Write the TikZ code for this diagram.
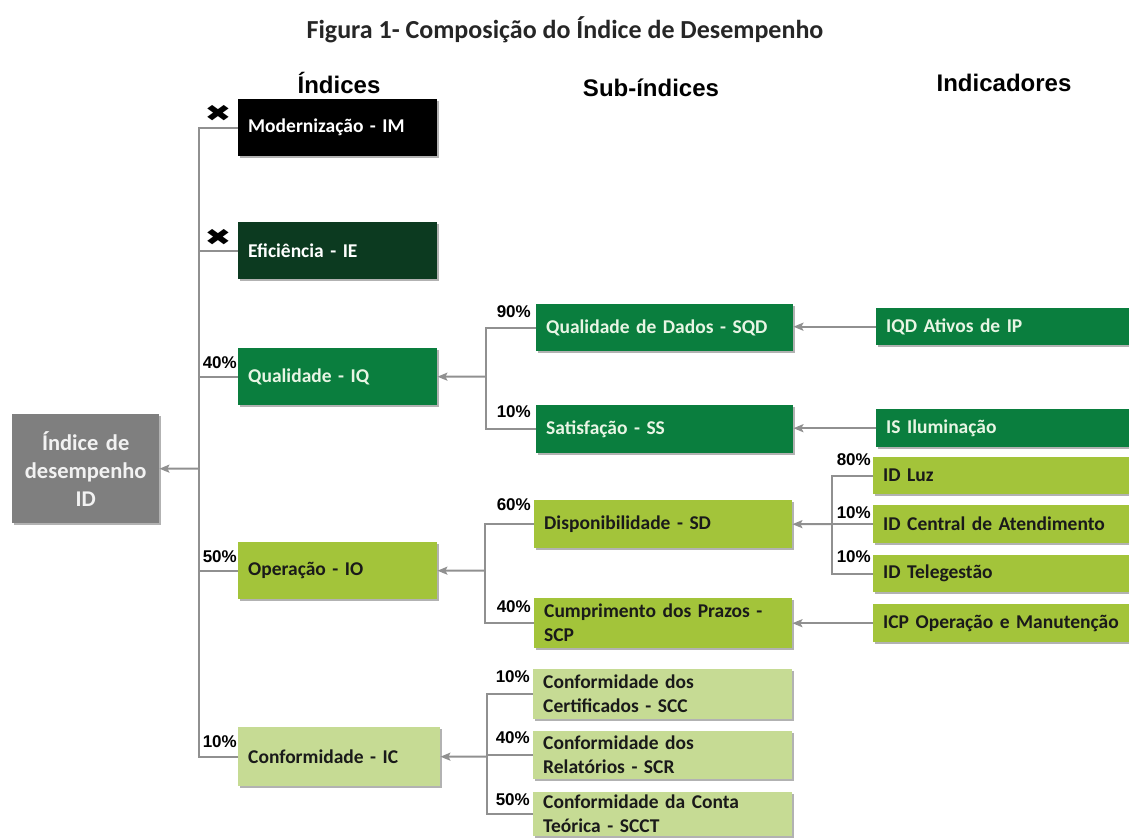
\documentclass[tikz,border=0pt]{standalone}
\usepackage{fontspec}
\setmainfont{Carlito}
\newfontfamily\arialf{Liberation Sans}
\newfontfamily\symf{DejaVu Sans}
\usetikzlibrary{arrows.meta,shadows,calc}
\definecolor{gDark}{RGB}{12,58,32}
\definecolor{gMid}{RGB}{10,126,62}
\definecolor{gLime}{RGB}{163,196,58}
\definecolor{gLight}{RGB}{198,219,148}
\definecolor{gGray}{RGB}{127,127,127}
\definecolor{lineC}{RGB}{144,144,144}
\definecolor{txtLight}{RGB}{232,245,228}
\definecolor{txtDark}{RGB}{26,26,26}
\definecolor{titleC}{RGB}{38,38,38}
\tikzset{
  bx/.code 2 args={\pgfmathsetmacro\tw{#1-20}\edef\next{\noexpand\tikzset{minimum width=#1pt,minimum height=#2pt,text width=\tw pt}}\next},
  box/.style={draw=none, anchor=north west, align=left, inner xsep=10pt, inner ysep=0pt,
    font=\fontsize{19.5}{24}\bfseries\selectfont,
    drop shadow={shadow xshift=1.5pt, shadow yshift=-2pt, opacity=0.3, fill=black}},
  bBlack/.style={box, fill=black, text=white},
  bDark/.style={box, fill=gDark, text=white},
  bMid/.style={box, fill=gMid, text=txtLight},
  bLime/.style={box, fill=gLime, text=txtDark},
  bLight/.style={box, fill=gLight, text=txtDark},
  pct/.style={font=\arialf\bfseries\fontsize{17}{17}\selectfont, anchor=east, inner sep=0pt},
  hdr/.style={font=\arialf\bfseries\fontsize{24}{24}\selectfont, inner sep=0pt},
  xm/.style={font=\symf\fontsize{32}{32}\selectfont, inner sep=0pt},
  conn/.style={draw=lineC, line width=2pt},
  arr/.style={conn, -{Stealth[length=10pt,width=8pt,inset=2pt]}},
}
\begin{document}
\begin{tikzpicture}[x=1pt,y=-1pt]
\useasboundingbox (0,0) rectangle (1129,838);
% title and headers
\node[font=\fontsize{26}{26}\bfseries\selectfont, text=titleC, inner sep=0pt] (title) at (565,30) {Figura 1- Composição do Índice de Desempenho};
\node[hdr] (h1) at (339,83) {Índices};
\node[hdr] (h2) at (651,88) {Sub-índices};
\node[hdr] (h3) at (1004,83) {Indicadores};
% root
\node[box, fill=gGray, text={rgb,255:red,242;green,242;blue,242}, bx={147}{109}, align=center, font=\fontsize{22.5}{28}\bfseries\selectfont] (ID) at (12,414) {Índice de\\desempenho\\ID};
% indices
\node[bBlack, bx={199}{57}] (IM) at (238,99) {Modernização - IM};
\node[bDark, bx={199}{57}] (IE) at (238,222) {Eficiência - IE};
\node[bMid, bx={199}{57}] (IQ) at (238,348) {Qualidade - IQ};
\node[bLime, bx={199}{57}] (IO) at (238,542) {Operação - IO};
\node[bLight, bx={202}{59}] (IC) at (238,727) {Conformidade - IC};
% sub-indices
\node[bMid, bx={257}{47}] (SQD) at (536,304) {Qualidade de Dados - SQD};
\node[bMid, bx={257}{48}] (SS) at (536,405) {Satisfação - SS};
\node[bLime, bx={258}{48}] (SD) at (534,500) {Disponibilidade - SD};
\node[bLime, bx={258}{50}] (SCP) at (534,598) {Cumprimento dos Prazos -\\SCP};
\node[bLight, bx={259}{50}] (SCC) at (533,669) {Conformidade dos\\Certificados - SCC};
\node[bLight, bx={259}{48}] (SCR) at (533,731) {Conformidade dos\\Relatórios - SCR};
\node[bLight, bx={259}{44}] (SCCT) at (533,792) {Conformidade da Conta\\Teórica - SCCT};
% indicators
\node[bMid, bx={256}{37}] (IQD) at (876,308) {IQD Ativos de IP};
\node[bMid, bx={256}{38}] (IS) at (876,409) {IS Iluminação};
\node[bLime, bx={259}{37}] (LUZ) at (873,457) {ID Luz};
\node[bLime, bx={259}{38}] (CEN) at (873,505) {ID Central de Atendimento};
\node[bLime, bx={259}{37}] (TEL) at (873,555) {ID Telegestão};
\node[bLime, bx={259}{38}] (ICP) at (873,604) {ICP Operação e Manutenção};
% x marks
\node[xm] (x1) at (218,113) {\scalebox{1}[0.72]{✖}};
\node[xm] (x2) at (218,237) {\scalebox{1}[0.72]{✖}};
% percentages
\node[pct] (p1) at ([shift={(-1,15)}]IQ.north west) {40\%};
\node[pct] (p2) at ([shift={(-1,15)}]IO.north west) {50\%};
\node[pct] (p3) at ([shift={(-1,15)}]IC.north west) {10\%};
\node[pct] (p4) at ([shift={(-5,8)}]SQD.north west) {90\%};
\node[pct] (p5) at ([shift={(-5,7)}]SS.north west) {10\%};
\node[pct] (p6) at ([shift={(-3,5)}]SD.north west) {60\%};
\node[pct] (p7) at ([shift={(-3,9)}]SCP.north west) {40\%};
\node[pct] (p8) at ([shift={(-3,8)}]SCC.north west) {10\%};
\node[pct] (p9) at ([shift={(-3,7)}]SCR.north west) {40\%};
\node[pct] (p10) at ([shift={(-3,8)}]SCCT.north west) {50\%};
\node[pct] (p11) at ([shift={(-2,3)}]LUZ.north west) {80\%};
\node[pct] (p12) at ([shift={(-2,8)}]CEN.north west) {10\%};
\node[pct] (p13) at ([shift={(-2,2)}]TEL.north west) {10\%};
% connectors
\coordinate (jA) at (199,468.5);
\foreach \n in {IM,IE,IQ,IO,IC} \draw[conn] (\n.west) -| (jA);
\draw[arr] (jA) -- (ID.east);
\coordinate (jQ) at (486,376.5);
\foreach \n in {SQD,SS} \draw[conn] (\n.west) -| (jQ);
\draw[arr] (jQ) -- (IQ.east);
\coordinate (jO) at (485,570.5);
\foreach \n in {SD,SCP} \draw[conn] (\n.west) -| (jO);
\draw[arr] (jO) -- (IO.east);
\coordinate (jC) at (487,756.5);
\foreach \n in {SCC,SCR,SCCT} \draw[conn] (\n.west) -| (jC);
\draw[arr] (jC) -- (IC.east);
\coordinate (jD) at (832,524);
\foreach \n in {LUZ,CEN,TEL} \draw[conn] (\n.west) -| (jD);
\draw[arr] (jD) -- (SD.east);
\draw[arr] (IQD.west) -- (IQD.west -| SQD.east);
\draw[arr] (IS.west) -- (IS.west -| SS.east);
\draw[arr] (ICP.west) -- (ICP.west -| SCP.east);
\end{tikzpicture}
\end{document}
